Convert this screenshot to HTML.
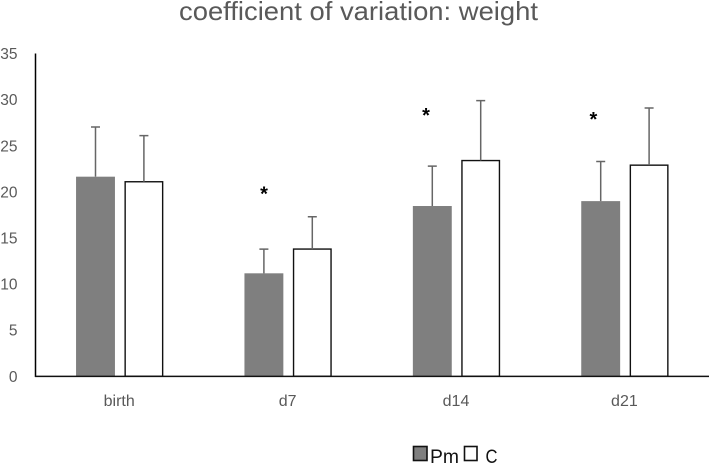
<!DOCTYPE html>
<html>
<head>
<meta charset="utf-8">
<style>
html,body{margin:0;padding:0;background:#fff;width:709px;height:465px;overflow:hidden}
svg{display:block;font-family:"Liberation Sans",sans-serif}
</style>
</head>
<body>
<svg id="chart" width="709" height="465" viewBox="0 0 709 465" xmlns="http://www.w3.org/2000/svg">
<text x="358.5" y="20" text-anchor="middle" font-size="26" fill="#595959" textLength="359" lengthAdjust="spacingAndGlyphs">coefficient of variation: weight</text>
<g id="ticks"></g>
<g id="cats"></g>
<g id="bars"></g>
<g id="stars"></g>
<line x1="35.5" y1="53.5" x2="35.5" y2="377" stroke="#000" stroke-width="1.5"/>
<line x1="35" y1="376.4" x2="709" y2="376.4" stroke="#111" stroke-width="1.5"/>
<g>
<rect x="413.5" y="446.5" width="13.5" height="14" fill="#7f7f7f" stroke="#111" stroke-width="1.6"/>
<text x="430" y="463" font-size="19" fill="#111" textLength="29" lengthAdjust="spacingAndGlyphs">Pm</text>
<rect x="464.5" y="446.5" width="12.5" height="14" fill="#fff" stroke="#111" stroke-width="1.6"/>
<text x="485.5" y="463" font-size="19" fill="#111" textLength="12" lengthAdjust="spacingAndGlyphs">C</text>
</g>
</svg>
<script>
const categories = ["birth", "d7", "d14", "d21"];
const pmValues = [21.65, 11.17, 18.47, 19.0];
const cValues = [21.1, 13.8, 23.4, 22.9];
const pmErrorTops = [27.04, 13.8, 22.8, 23.3];
const cErrorTops = [26.1, 17.3, 29.9, 29.1];
const yTicks = [0, 5, 10, 15, 20, 25, 30, 35];
const starCategoryPositions = [0.857, 1.819, 2.813];
const starValues = [20.1, 28.6, 28.2];

const NS = "http://www.w3.org/2000/svg";
const Y0 = 376.3, PX_PER_UNIT = 9.22, X0 = 119.7, BAND = 168.4;
const BAR_W = 38.5, PM_OFFSET = -24.2, C_OFFSET = 24.2;
const yScale = v => Y0 - v * PX_PER_UNIT;
const xScale = i => X0 + i * BAND;

function make(parent, tag, attrs, text) {
  const el = document.createElementNS(NS, tag);
  for (const k in attrs) el.setAttribute(k, attrs[k]);
  if (text !== undefined) el.textContent = text;
  document.getElementById(parent).appendChild(el);
  return el;
}

yTicks.forEach(t => {
  const el = make("ticks", "text", {x: 17.5, y: yScale(t) + 5.5, "text-anchor": "end", "font-size": 15.5, fill: "#595959"}, t);
  
  
});

categories.forEach((c, i) => {
  const el = make("cats", "text", {x: xScale(i) - 0.5, y: yScale(0) + 29.5, "text-anchor": "middle", "font-size": 16, fill: "#595959"}, c);
  
  

  const pmX = xScale(i) + PM_OFFSET;
  const pmBar = make("bars", "rect", {x: pmX - BAR_W / 2 - 0.2, y: yScale(pmValues[i]), width: BAR_W + 0.4, height: yScale(0) - yScale(pmValues[i]), fill: "#7f7f7f"});
  
  

  const cX = xScale(i) + C_OFFSET;
  const cBar = make("bars", "rect", {x: cX - BAR_W / 2 + 0.5, y: yScale(cValues[i]), width: BAR_W - 1, height: yScale(0) - yScale(cValues[i]), fill: "#fff", stroke: "#111", "stroke-width": 1.4});
  
  

  const pmErr = make("bars", "path", {d: "M" + pmX + " " + yScale(pmValues[i]) + "V" + yScale(pmErrorTops[i]) + "m-4.5 0h9", fill: "none", stroke: "#666", "stroke-width": 1.5});
  
  

  const cErr = make("bars", "path", {d: "M" + cX + " " + yScale(cValues[i]) + "V" + yScale(cErrorTops[i]) + "m-4.5 0h9", fill: "none", stroke: "#666", "stroke-width": 1.5});
  
  
});

starValues.forEach((v, i) => {
  const el = make("stars", "text", {x: xScale(starCategoryPositions[i]), y: yScale(v) + 9.5, "text-anchor": "middle", "font-size": 20, "font-weight": "bold", fill: "#000"}, "*");
  
  
});
</script>
</body>
</html>
